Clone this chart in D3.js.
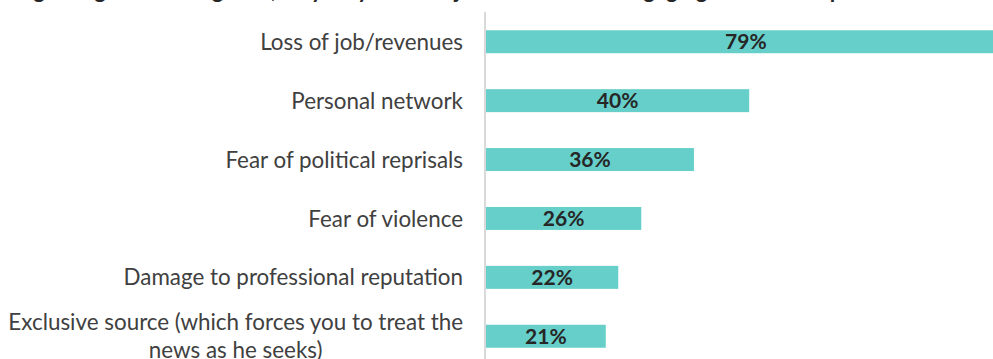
<!DOCTYPE html>
<html>
<head>
<meta charset="utf-8">
<script src="https://cdn.jsdelivr.net/npm/d3@7"></script>
<style>
  html, body { margin: 0; padding: 0; background: #fff; overflow: hidden; }
  svg { display: block; }
</style>
</head>
<body>
<script>
// categories, top to bottom
var categories = [
  'Loss of job/revenues',
  'Personal network',
  'Fear of political reprisals',
  'Fear of violence',
  'Damage to professional reputation',
  'Exclusive source (which forces you to treat the|news as he seeks)'
];
// printed labels
var valueLabels = ['79%', '40%', '36%', '26%', '22%', '21%'];
// bar lengths as drawn in the picture (%)
var barValues = [79, 40, 31.6, 23.6, 20.1, 18.2];

var W = 993, H = 359;
var axisX = 486;
var font = 'Lato, sans-serif';

var svg = d3.select('body').append('svg')
  .attr('width', W)
  .attr('height', H);

// title, cut off at the top of the picture
svg.append('text')
  .text('Regarding these categories, why do you think journalists avoid engaging in certain topics?')
  .attr('x', 8)
  .attr('y', -2)
  .attr('font-family', font)
  .attr('font-weight', 'bold')
  .attr('font-size', 22)
  .attr('fill', '#262626');

var y = d3.scaleBand()
  .domain(categories)
  .range([12, 366])
  .paddingInner(0.61)
  .paddingOuter(0.31);

var x = d3.scaleLinear()
  .domain([0, 100])
  .range([axisX, axisX + 658]);

var rows = svg.selectAll('g.row')
  .data(categories)
  .enter().append('g')
  .attr('class', 'row');

rows.append('rect')
  .attr('x', x(0))
  .attr('y', function(d) { return y(d); })
  .attr('width', function(d, i) { return x(barValues[i]) - x(0); })
  .attr('height', y.bandwidth())
  .attr('fill', '#66cfc9');

rows.append('text')
  .text(function(d, i) { return valueLabels[i]; })
  .attr('x', function(d, i) { return (x(0) + x(barValues[i])) / 2; })
  .attr('y', function(d) { return y(d) + y.bandwidth() / 2; })
  .attr('dy', '0.36em')
  .attr('text-anchor', 'middle')
  .attr('font-family', font)
  .attr('font-weight', 'bold')
  .attr('font-size', 21)
  .attr('fill', '#262626');

// category labels
function label(g, txt, xPos, yPos, anchor) {
  return g.append('text')
    .text(txt)
    .attr('x', xPos)
    .attr('y', yPos)
    .attr('dy', '0.36em')
    .attr('text-anchor', anchor)
    .attr('font-family', font)
    .attr('font-size', 22.4)
    .attr('fill', '#404040');
}

rows.each(function(d) {
  var g = d3.select(this);
  var lines = d.split('|');
  var cy = y(d) + y.bandwidth() / 2;
  if (lines.length === 1) {
    label(g, lines[0], 463, cy, 'end');
  } else {
    var t1 = label(g, lines[0], 463, cy - 14, 'end');
    var w = t1.node().getComputedTextLength();
    label(g, lines[1], 463 - w / 2, cy + 14, 'middle');
  }
});

// vertical axis line
svg.append('line')
  .attr('x1', axisX - 1)
  .attr('x2', axisX - 1)
  .attr('y1', 12)
  .attr('y2', H)
  .attr('stroke', '#d9d9d9')
  .attr('stroke-width', 2);
</script>
</body>
</html>
